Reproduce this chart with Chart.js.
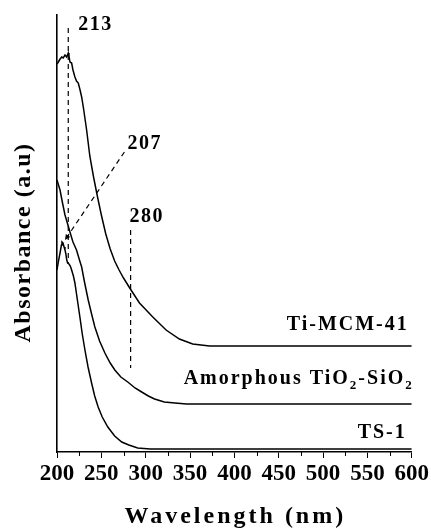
<!DOCTYPE html>
<html><head><meta charset="utf-8">
<script src="https://cdn.jsdelivr.net/npm/chart.js@4/dist/chart.umd.min.js"></script>
<style>html,body{margin:0;padding:0;background:#fff;}#wrap{width:431px;height:530px;position:relative;}</style>
</head><body><div id="wrap"><canvas id="c"></canvas></div>
<script>
// ---- data (wavelength nm, absorbance a.u. arbitrary offset units) ----
const wavelengthTicks = [200, 250, 300, 350, 400, 450, 500, 550, 600];
const minorTicks = [225, 275, 325, 375, 425, 475, 525, 575];
const seriesNames = ['Ti-MCM-41', 'Amorphous TiO2-SiO2', 'TS-1'];
const tiMCM41 = [[200,388],[201.5,390],[203.5,393],[205.3,395],[207,394],[209,397],[210.9,395],[212.7,399],[213.5,396],[214.6,390],[216.5,389],[218,382],[220.2,375],[222,371],[224,369],[226,362],[227.8,355],[230,343],[233.4,322],[237,296],[241,276],[245,258],[250,237],[255,218],[260,203],[265,191],[270,182],[275,174],[282,164],[293,149],[308,135],[323,122],[338,113],[353,108],[372,106],[600,106]];
const amorphousTiSi = [[200,272],[203.4,262],[206,250],[209,237],[212,228],[214.6,220],[218,210],[222,202],[225,193],[227.8,185],[231,170],[235.2,152],[239,138],[242.7,125],[248,111],[254,99],[260,89],[265.2,82],[272,75],[279.8,70],[288,64],[295.5,60],[303,56],[310,53],[321,50],[333,49],[346,48],[600,48]];
const ts1 = [[200,182],[201.5,190],[203.4,199],[205,207],[205.6,210],[206.7,209],[208,205],[209,202],[210,198],[211,192],[212,189],[213.5,188],[215,186],[216.5,182],[218.5,176],[220.2,169],[223,152],[225.8,135],[228.5,118],[231.5,102],[235,85],[239,69],[242.5,56],[246.4,45],[251,35],[257.3,25],[265,16],[273,10],[281,7],[291,4],[305,3],[321,3],[600,3]];
const peakLabels = ['213', '207', '280'];
const peak213 = [[212.7,424],[212.7,188]];
const peak207 = [[276,300],[209,212]];
const peak280 = [[283,222],[283,84]];

const FONT = "'Liberation Serif','Times New Roman',serif";
const pts = a => a.map(p => ({x:p[0], y:p[1]}));

const textPlugin = {
  id: 'texts',
  beforeDraw(chart) { chart.ctx.letterSpacing = '0px'; },
  afterDraw(chart) {
    const ctx = chart.ctx, xs = chart.scales.x, ys = chart.scales.y;
    ctx.save();
    ctx.fillStyle = '#000'; ctx.strokeStyle = '#000';
    // minor ticks
    ctx.lineWidth = 1;
    const yb = ys.getPixelForValue(0);
    minorTicks.forEach(v => { const px = Math.round(xs.getPixelForValue(v)) + 0.5; ctx.beginPath(); ctx.moveTo(px, yb); ctx.lineTo(px, yb + 4); ctx.stroke(); });
    const p = (d) => [xs.getPixelForValue(d[0]), ys.getPixelForValue(d[1])];
    // arrowhead on 207 pointer
    const a0 = p(peak207[0]), a1 = p(peak207[1]);
    const ang = Math.atan2(a1[1] - a0[1], a1[0] - a0[0]);
    ctx.beginPath();
    ctx.moveTo(a1[0], a1[1]);
    ctx.lineTo(a1[0] - 6 * Math.cos(ang - 0.45), a1[1] - 6 * Math.sin(ang - 0.45));
    ctx.lineTo(a1[0] - 6 * Math.cos(ang + 0.45), a1[1] - 6 * Math.sin(ang + 0.45));
    ctx.closePath(); ctx.fill();
    // peak labels
    ctx.font = 'bold 20px ' + FONT; ctx.letterSpacing = '1.5px'; ctx.textBaseline = 'alphabetic'; ctx.textAlign = 'left';
    let a = p(peak213[0]); ctx.fillText(peakLabels[0], a[0] + 10, a[1] + 2);
    a = p(peak207[0]); ctx.fillText(peakLabels[1], a[0] + 3, a[1] - 3);
    a = p(peak280[0]); ctx.fillText(peakLabels[2], a[0] - 1, a[1] - 8);
    // series labels
    const xr = xs.getPixelForValue(600) - 3;
    ctx.font = 'bold 20px ' + FONT; ctx.letterSpacing = '2px'; ctx.textAlign = 'right';
    ctx.fillText(seriesNames[0], xr, ys.getPixelForValue(tiMCM41[tiMCM41.length-1][1]) - 16);
    ctx.fillText(seriesNames[2], xr - 2, ys.getPixelForValue(ts1[ts1.length-1][1]) - 11);
    // amorphous with subscripts
    const parts = [['Amorphous TiO', false], ['2', true], ['-SiO', false], ['2', true]];
    const base = ys.getPixelForValue(amorphousTiSi[amorphousTiSi.length-1][1]) - 20;
    ctx.textAlign = 'left';
    let widths = parts.map(pt => { ctx.font = (pt[1] ? 'bold 13px ' : 'bold 20px ') + FONT; return ctx.measureText(pt[0]).width; });
    let x = xr + 5 - widths.reduce((s, w) => s + w, 0);
    parts.forEach((pt, i) => { ctx.font = (pt[1] ? 'bold 13px ' : 'bold 20px ') + FONT; ctx.fillText(pt[0], x, base + (pt[1] ? 5 : 0)); x += widths[i]; });
    // axis titles
    ctx.font = 'bold 24px ' + FONT; ctx.letterSpacing = '3px'; ctx.textAlign = 'center'; ctx.textBaseline = 'alphabetic';
    ctx.fillText('Wavelength (nm)', (xs.left + xs.right) / 2 + 1, 523);
    ctx.save();
    ctx.translate(30, (ys.top + ys.bottom) / 2 + 9);
    ctx.rotate(-Math.PI / 2);
    ctx.font = 'bold 24px ' + FONT; ctx.letterSpacing = '1.5px';
    ctx.fillText('Absorbance (a.u)', 0, 0);
    ctx.restore();
    ctx.restore();
  }
};

const lineDs = (data, extra) => Object.assign({ data: pts(data), borderColor: '#000', borderWidth: 1.5, pointRadius: 0, fill: false, tension: 0 }, extra || {});
const dashDs = (data) => lineDs(data, { borderWidth: 1.2, borderDash: [5, 4] });

new Chart(document.getElementById('c'), {
  type: 'line',
  data: { datasets: [
    lineDs(tiMCM41, { label: seriesNames[0] }),
    lineDs(amorphousTiSi, { label: seriesNames[1] }),
    lineDs(ts1, { label: seriesNames[2] }),
    dashDs(peak213), dashDs(peak207), dashDs(peak280)
  ]},
  options: {
    responsive: true, maintainAspectRatio: false, animation: false,
    layout: { padding: { left: 57, right: 18, top: 15, bottom: 0 } },
    plugins: { legend: { display: false }, tooltip: { enabled: false } },
    scales: {
      x: {
        type: 'linear', min: 200, max: 600,
        afterFit: s => { s.height = 78; },
        afterBuildTicks: s => { s.ticks = wavelengthTicks.map(v => ({ value: v })); },
        ticks: { color: '#000', padding: 2, maxRotation: 0, autoSkip: false, font: { family: FONT, size: 23, weight: 'bold' } },
        grid: { drawOnChartArea: false, drawTicks: true, tickLength: 6, color: '#000', lineWidth: 1 },
        border: { display: true, color: '#000', width: 1.6 }
      },
      y: {
        type: 'linear', min: 0, max: 437,
        afterFit: s => { s.width = 0; },
        ticks: { display: false },
        grid: { display: false, drawTicks: false },
        border: { display: true, color: '#000', width: 1.6 }
      }
    }
  },
  plugins: [textPlugin]
});
</script></body></html>
